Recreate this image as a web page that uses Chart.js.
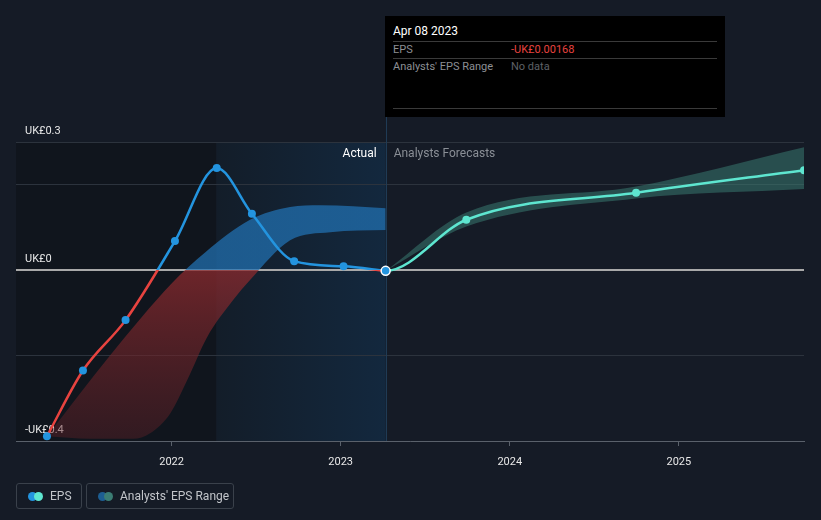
<!DOCTYPE html>
<html>
<head>
<meta charset="utf-8">
<script src="https://cdn.jsdelivr.net/npm/chart.js@4/dist/chart.umd.min.js"></script>
<style>
  body { margin: 0; background: #151b26; font-family: Roboto, "Noto Sans", sans-serif; }
  #wrap { position: relative; width: 821px; height: 520px; overflow: hidden; }
  canvas { position: absolute; left: 0; top: 0; }
  .tip { position: absolute; left: 385px; top: 16px; width: 340px; height: 101px; background: #000; font-size: 11px; }
  .tip .date { position: absolute; left: 8px; top: 8px; color: #fff; font-size: 12px; }
  .tip .rule { position: absolute; left: 8px; right: 8px; height: 1px; background: #3a3a3a; }
  .tip .k { position: absolute; left: 8px; color: #8c8f94; }
  .tip .v { position: absolute; left: 126px; }
  .leg { position: absolute; top: 483px; height: 24px; border: 1px solid #3a414b; border-radius: 3px; color: #c2c5ca; font-size: 12px; line-height: 24px; }
  .dot { position: absolute; top: 8px; width: 9px; height: 9px; border-radius: 50%; }
</style>
</head>
<body>
<div id="wrap">
  <canvas id="c" width="821" height="520"></canvas>
  <div class="tip">
    <div class="date">Apr 08 2023</div>
    <div class="rule" style="top:25px"></div>
    <div class="k" style="top:27px">EPS</div>
    <div class="v" style="top:27px;color:#e8433f">-UK£0.00168</div>
    <div class="rule" style="top:42px"></div>
    <div class="k" style="top:44px">Analysts' EPS Range</div>
    <div class="v" style="top:44px;color:#5e6167">No data</div>
    <div class="rule" style="top:92px"></div>
  </div>
  <div class="leg" style="left:16px;width:64px">
    <span class="dot" style="left:11px;background:#2394df"></span>
    <span class="dot" style="left:17px;background:#5ee6d0"></span>
    <span style="position:absolute;left:33px">EPS</span>
  </div>
  <div class="leg" style="left:86px;width:146px">
    <span class="dot" style="left:11px;background:#1d5e92"></span>
    <span class="dot" style="left:17px;background:#3b7d74"></span>
    <span style="position:absolute;left:33px">Analysts' EPS Range</span>
  </div>
</div>
<script>
// values in UK£, x in decimal years
const actualYears = [2021.263, 2021.476, 2021.728, 2022.02, 2022.267, 2022.475, 2022.725, 2023.017, 2023.266];
const actualEps = [-0.389, -0.235, -0.117, 0.068, 0.239, 0.132, 0.021, 0.009, -0.00168];

const forecastYears = [2023.266, 2023.743, 2024.747, 2025.74];
const forecastEps = [-0.00168, 0.118, 0.181, 0.234];
const forecastHigh = [-0.00168, 0.135, 0.196, 0.288];
const forecastLow = [-0.00168, 0.102, 0.168, 0.19];

const pastHighYears = [2021.263, 2021.636, 2022.003, 2022.2, 2022.464, 2022.701, 2022.879, 2023.266];
const pastHigh = [-0.389, -0.2, -0.03, 0.042, 0.118, 0.148, 0.152, 0.145];
const pastLowYears = [2021.263, 2021.518, 2021.772, 2021.873, 2021.991, 2022.092, 2022.21, 2022.364, 2022.464, 2022.701, 2022.938, 2023.266];
const pastLow = [-0.389, -0.395, -0.395, -0.382, -0.336, -0.258, -0.157, -0.07, -0.023, 0.07, 0.089, 0.094];

const yTicks = [-0.4, -0.2, 0, 0.2, 0.3];
const yLabels = { '0.3': 'UK£0.3', '0': 'UK£0', '-0.4': '-UK£0.4' };
const xTicks = [2022, 2023, 2024, 2025];
const actualStart = 2022.265;
const today = 2023.266;

const pts = (xs, ys) => xs.map((x, i) => ({ x, y: ys[i] }));
// forecast line continues the curve from the previous actual point (segment hidden)
const prevActual = actualEps.length - 2;
const forecastLine = [{ x: actualYears[prevActual], y: actualEps[prevActual] }].concat(pts(forecastYears, forecastEps));

function zeroSplit(ctx, above, belowTop, belowBottom) {
  const chart = ctx.chart;
  const area = chart.chartArea;
  if (!area) return above;
  const y0 = chart.scales.y.getPixelForValue(0);
  const f = Math.min(Math.max((y0 - area.top) / (area.bottom - area.top), 0), 1);
  const g = chart.ctx.createLinearGradient(0, area.top, 0, area.bottom);
  g.addColorStop(0, above);
  g.addColorStop(f, above);
  g.addColorStop(f, belowTop);
  g.addColorStop(1, belowBottom);
  return g;
}

const backdrop = {
  id: 'backdrop',
  beforeDraw(chart) {
    const { ctx, chartArea: a, scales: { x } } = chart;
    const xs = x.getPixelForValue(actualStart);
    const xt = x.getPixelForValue(today);
    ctx.save();
    ctx.fillStyle = '#10151d';
    ctx.fillRect(a.left, a.top, xs - a.left, a.bottom - a.top);
    const g = ctx.createLinearGradient(xs, 0, xt, 0);
    g.addColorStop(0, '#131d29');
    g.addColorStop(1, '#13283e');
    ctx.fillStyle = g;
    ctx.fillRect(xs, a.top, xt - xs, a.bottom - a.top);
    ctx.restore();
  },
  beforeDatasetsDraw(chart) {
    const { ctx, chartArea: a, scales: { x } } = chart;
    const xt = x.getPixelForValue(today);
    ctx.save();
    ctx.strokeStyle = '#1f3b55';
    ctx.lineWidth = 1;
    ctx.beginPath();
    ctx.moveTo(Math.round(xt) + 0.5, 117);
    ctx.lineTo(Math.round(xt) + 0.5, a.bottom);
    ctx.stroke();
    ctx.font = '12px Roboto, "Noto Sans", sans-serif';
    ctx.textBaseline = 'middle';
    ctx.textAlign = 'right';
    ctx.fillStyle = '#ffffff';
    ctx.fillText('Actual', xt - 9, a.top + 12);
    ctx.textAlign = 'left';
    ctx.fillStyle = '#8a8f96';
    ctx.fillText('Analysts Forecasts', xt + 8, a.top + 12);
    ctx.restore();
  }
};

new Chart(document.getElementById('c'), {
  type: 'line',
  data: {
    datasets: [
      {
        data: pts(pastHighYears, pastHigh), fill: '+1', borderWidth: 0, pointRadius: 0,
        cubicInterpolationMode: 'monotone', order: 5,
        backgroundColor: ctx => zeroSplit(ctx, 'rgba(33,114,180,0.72)', 'rgba(140,42,46,0.75)', 'rgba(90,32,38,0.45)')
      },
      {
        data: pts(pastLowYears, pastLow), fill: false, borderWidth: 0, pointRadius: 0,
        cubicInterpolationMode: 'monotone', order: 5
      },
      {
        data: pts(forecastYears, forecastHigh), fill: '+1', borderWidth: 0, pointRadius: 0,
        cubicInterpolationMode: 'monotone', order: 4, backgroundColor: 'rgba(60,130,118,0.5)'
      },
      {
        data: pts(forecastYears, forecastLow), fill: false, borderWidth: 0, pointRadius: 0,
        cubicInterpolationMode: 'monotone', order: 4
      },
      {
        data: forecastLine, fill: false, borderWidth: 2.5, borderColor: '#5ee6d0',
        cubicInterpolationMode: 'monotone', order: 2,
        segment: { borderColor: s => s.p0DataIndex === 0 ? 'rgba(0,0,0,0)' : undefined },
        pointRadius: forecastLine.map((_, i) => i < 2 ? 0 : 4),
        pointBackgroundColor: '#5ee6d0', pointBorderWidth: 0
      },
      {
        data: pts(actualYears, actualEps), fill: false, borderWidth: 2.5,
        cubicInterpolationMode: 'monotone', order: 1,
        borderColor: ctx => zeroSplit(ctx, '#2394df', '#e8433f', '#e8433f'),
        pointRadius: actualYears.map((_, i) => i === actualYears.length - 1 ? 4.5 : 4),
        pointBackgroundColor: '#2394df',
        pointBorderColor: actualYears.map((_, i) => i === actualYears.length - 1 ? '#ffffff' : '#2394df'),
        pointBorderWidth: actualYears.map((_, i) => i === actualYears.length - 1 ? 1.5 : 0)
      }
    ]
  },
  options: {
    responsive: false,
    animation: false,
    layout: { padding: { left: 16, right: 17, top: 142, bottom: 49 } },
    plugins: { legend: { display: false }, tooltip: { enabled: false } },
    scales: {
      x: {
        type: 'linear', min: 2021.08, max: 2025.74,
        afterBuildTicks: s => { s.ticks = xTicks.map(v => ({ value: v })); },
        afterFit: s => { s.height = 30; },
        grid: { drawOnChartArea: false, color: '#5a616b', tickLength: 5 },
        border: { color: '#5a616b', width: 1 },
        ticks: { color: '#e8e8e8', padding: 10, font: { size: 11, family: 'Roboto' }, callback: v => String(v) }
      },
      y: {
        min: -0.4, max: 0.3,
        afterBuildTicks: s => { s.ticks = yTicks.map(v => ({ value: v })); },
        afterFit: s => { s.width = 0; },
        border: { display: false },
        grid: {
          drawTicks: false,
          color: c => c.tick && c.tick.value === 0 ? '#a9a9a9' : '#2c333d',
          lineWidth: c => c.tick && c.tick.value === 0 ? 2 : 1
        },
        ticks: {
          mirror: true, padding: 9, labelOffset: -11, color: '#e8e8e8',
          font: { size: 11, family: 'Roboto' },
          callback: v => yLabels[String(Math.round(v * 10) / 10)] || ''
        }
      }
    }
  },
  plugins: [backdrop]
});
</script>
</body>
</html>
